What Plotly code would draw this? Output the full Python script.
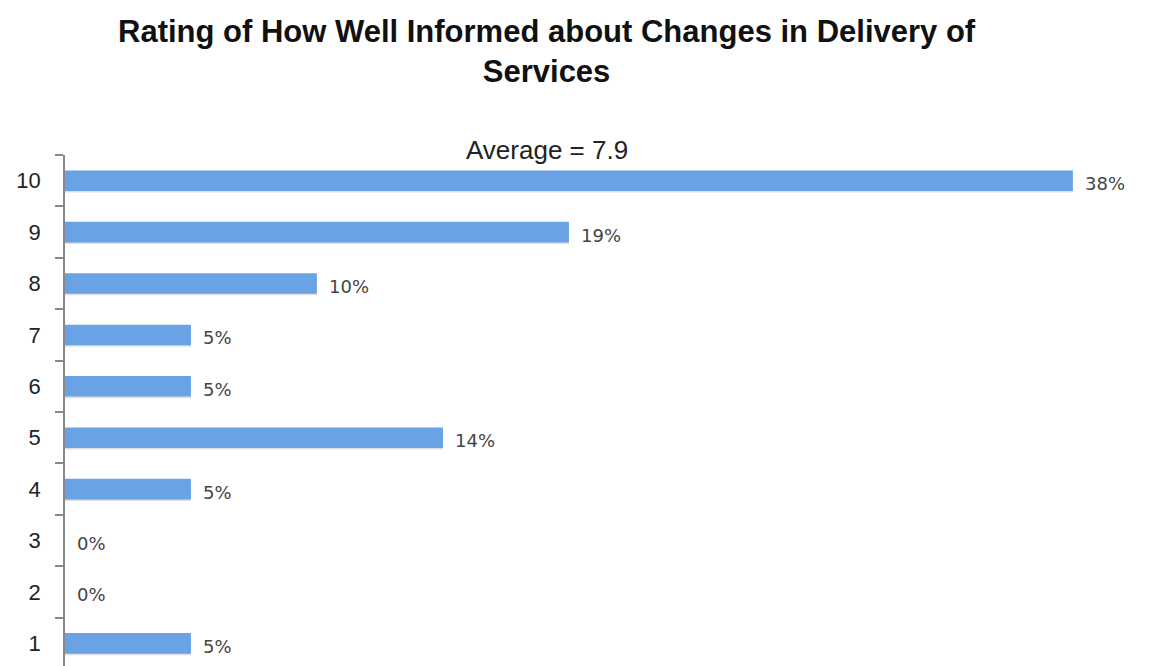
import plotly.graph_objects as go

ratings = ["1", "2", "3", "4", "5", "6", "7", "8", "9", "10"]
percent = [4.76, 0, 0, 4.76, 14.29, 4.76, 4.76, 9.52, 19.05, 38.10]
labels = ["5%", "0%", "0%", "5%", "14%", "5%", "5%", "10%", "19%", "38%"]
title_text = "Rating of How Well Informed about Changes in Delivery of<br>Services"
average_text = "Average = 7.9"

fig = go.Figure()
# soft shadow
fig.add_trace(go.Bar(
    y=ratings, x=percent, orientation="h",
    width=0.4, offset=-0.23,
    marker=dict(color="rgba(110,110,110,0.22)", line=dict(width=0)),
    hoverinfo="skip",
))
# main bar
fig.add_trace(go.Bar(
    y=ratings, x=percent, orientation="h",
    width=0.4, offset=-0.2,
    marker=dict(color="#69a3e6", line=dict(width=0)),
    hoverinfo="skip",
))

fig.update_layout(
    width=1149, height=666,
    margin=dict(l=65, r=10, t=155, b=0),
    plot_bgcolor="white", paper_bgcolor="white",
    showlegend=False,
    barmode="overlay",
    xaxis=dict(range=[0, 40.6], visible=False, fixedrange=True),
    yaxis=dict(
        type="category", categoryorder="array", categoryarray=ratings,
        range=[-0.44, 9.5],
        showline=True, linecolor="#888888", linewidth=1.5,
        ticks="outside", tickson="boundaries", ticklen=8, tickcolor="#888888", tickwidth=1.5,
        tickfont=dict(family="Liberation Sans", size=22, color="#222222"),
        ticklabelstandoff=18,
        showgrid=False, zeroline=False,
    ),
)

for idx, (v, lab) in enumerate(zip(percent, labels)):
    fig.add_annotation(
        x=v, y=idx, xref="x", yref="y", text=lab,
        xanchor="left", yanchor="middle", xshift=10, yshift=-3,
        showarrow=False,
        font=dict(family="DejaVu Sans", size=18, color="#444444"),
    )

fig.add_annotation(
    text=title_text, xref="paper", yref="paper",
    x=0.449, y=1.0 + (155 - 12) / 511, xanchor="center", yanchor="top",
    showarrow=False, align="center",
    font=dict(family="Liberation Sans", size=31, color="#111111", weight="bold"),
)
fig.add_annotation(
    text=average_text, xref="paper", yref="paper",
    x=0.449, y=1.01, xanchor="center", yanchor="middle",
    showarrow=False,
    font=dict(family="Liberation Sans", size=26, color="#222222"),
)

fig.write_html("out.html")
